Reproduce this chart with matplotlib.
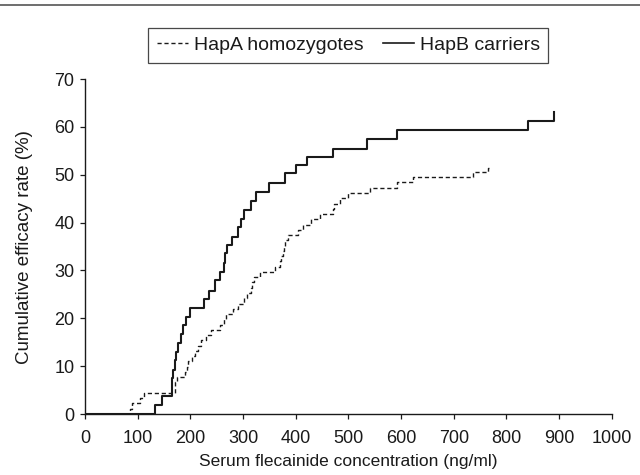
import matplotlib
matplotlib.use("Agg")
import matplotlib.pyplot as plt
from matplotlib.lines import Line2D

plt.rcParams['font.family'] = ['Liberation Sans', 'DejaVu Sans']

# HapB carriers (solid step curve)
hapb_x = [0, 133, 147, 165, 166, 168, 170, 173, 176, 183, 186, 191, 199, 225, 236,
          247, 256, 263, 265, 270, 280, 291, 297, 301, 315, 325, 350, 380, 401, 422,
          470, 536, 593, 842, 890]
hapb_y = [0, 1.8, 3.7, 5.6, 7.5, 9.3, 11.2, 13.0, 14.9, 16.8, 18.6, 20.3, 22.1, 24.0, 25.8,
          28.0, 29.7, 31.6, 33.6, 35.3, 37.0, 39.0, 40.7, 42.6, 44.5, 46.4, 48.3, 50.3, 52.0, 53.8,
          55.5, 57.5, 59.3, 61.2, 63.2]

# HapA homozygotes (dashed step curve)
hapa_x = [0, 85, 90, 104, 112, 170, 171, 175, 190, 193, 196, 203, 209, 215, 220,
          230, 240, 257, 263, 268, 281, 291, 301, 307, 315, 318, 320, 333, 360, 370,
          373, 376, 378, 380, 386, 405, 414, 430, 446, 470, 472, 484, 500, 541, 592,
          623, 737, 766, 770]
hapa_y = [0, 1.1, 2.2, 3.3, 4.4, 5.5, 6.6, 7.7, 8.8, 9.9, 11.0, 12.1, 13.2, 14.3, 15.4,
          16.5, 17.6, 18.7, 19.8, 20.9, 22.0, 23.1, 24.2, 25.3, 26.4, 27.5, 28.6, 29.7, 30.8, 31.9,
          33.0, 34.1, 35.2, 36.3, 37.4, 38.5, 39.6, 40.7, 41.8, 42.9, 44.0, 45.1, 46.2, 47.3, 48.4,
          49.5, 50.6, 51.5, 51.5]

x_ticks = [0, 100, 200, 300, 400, 500, 600, 700, 800, 900, 1000]
y_ticks = [0, 10, 20, 30, 40, 50, 60, 70]
series_labels = ["HapA homozygotes", "HapB carriers"]
x_label = "Serum flecainide concentration (ng/ml)"
y_label = "Cumulative efficacy rate (%)"

fig = plt.figure(figsize=(6.4, 4.75), dpi=100)
ax = fig.add_axes([0.1328, 0.1284, 0.823, 0.705])

ink = '#1a1a1a'
ax.step(hapa_x, hapa_y, where='post', color=ink, lw=1.0, linestyle=(0, (3, 2)))
ax.step(hapb_x, hapb_y, where='post', color=ink, lw=1.5)

ax.set_xlim(0, 1000)
ax.set_ylim(0, 70)
ax.set_xticks(x_ticks)
ax.set_yticks(y_ticks)
ax.tick_params(direction='out', length=3.5, width=0.9, colors=ink, labelsize=13)
ax.tick_params(axis='x', pad=8)
ax.tick_params(axis='y', pad=4)
ax.spines['top'].set_visible(False)
ax.spines['right'].set_visible(False)
for s in ('left', 'bottom'):
    ax.spines[s].set_color(ink)
    ax.spines[s].set_linewidth(1.0)

ax.set_xlabel(x_label, fontsize=12.5, color=ink, labelpad=5)
ax.set_ylabel(y_label, fontsize=13.5, color=ink, labelpad=15)

handles = [Line2D([], [], color=ink, lw=1.0, linestyle=(0, (3, 2))),
           Line2D([], [], color=ink, lw=1.2)]
leg = fig.legend(handles, series_labels, loc='center', bbox_to_anchor=(0.544, 0.905),
                 ncol=2, fontsize=14, frameon=True, fancybox=False, handlelength=1.6,
                 handletextpad=0.3, columnspacing=1.0, borderpad=0.45)
leg.get_frame().set_edgecolor(ink)
leg.get_frame().set_linewidth(0.9)
for t in leg.get_texts():
    t.set_color(ink)

fig.add_artist(Line2D([0, 1], [0.99, 0.99], transform=fig.transFigure, color='#555', lw=1.2))

fig.savefig("out.png", dpi=100)
